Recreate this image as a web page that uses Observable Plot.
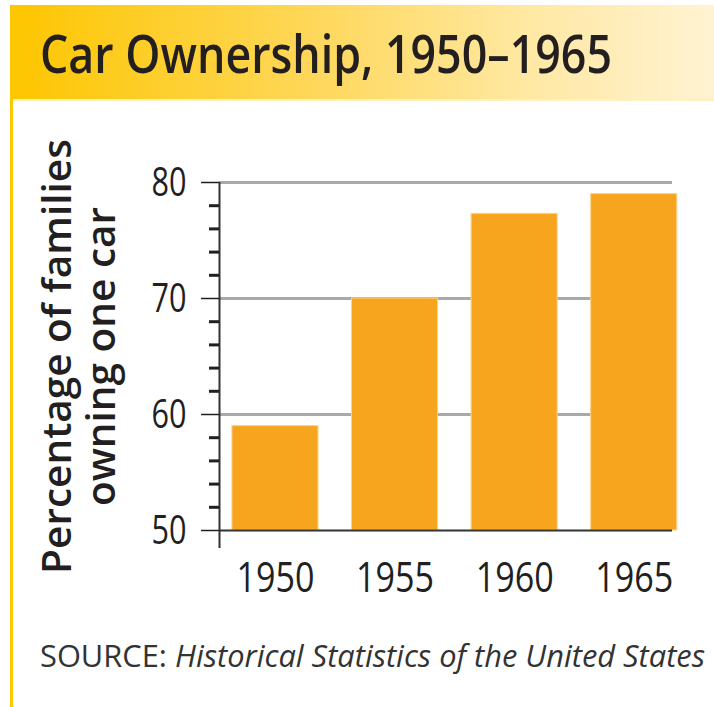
<!DOCTYPE html>
<html>
<head>
<meta charset="utf-8">
<script src="https://cdn.jsdelivr.net/npm/d3@7"></script>
<script src="https://cdn.jsdelivr.net/npm/@observablehq/plot@0.6"></script>
<style>
  body { margin: 0; background: #fff; }
  #wrap { position: relative; width: 714px; height: 707px; overflow: hidden;
    font-family: "Open Sans", "DejaVu Sans Condensed", sans-serif; color: #231f20; }
  #border { position: absolute; left: 10px; top: 5px; width: 3px; bottom: 0; background: #fcc800; }
  #bar { position: absolute; left: 10px; top: 5px; right: 0; height: 94px;
    background: linear-gradient(to right, #fdc600 0%, #fed653 40%, #ffe9a6 75%, #fff3d2 100%);
    border-bottom: 2px solid #fff0c0; }
  #title { position: absolute; left: 40px; top: 27px; font-size: 52px; line-height: 1; font-weight: 600;
    white-space: nowrap; transform-origin: 0 50%; }
  #caption { position: absolute; left: 40px; top: 640px; font-size: 31px; line-height: 1; color: #333;
    white-space: nowrap; transform-origin: 0 50%; }
  #chart { position: absolute; left: 0; top: 100px; }
</style>
</head>
<body>
<div id="wrap">
  <div id="bar"></div>
  <div id="border"></div>
  <div id="title">Car Ownership, 1950–1965</div>
  <div id="chart"></div>
  <div id="caption">SOURCE: <i>Historical Statistics of the United States</i></div>
</div>
<script>
// ---- data ----
const years = [1950, 1955, 1960, 1965];
const shares = [59, 70, 77.3, 79];
const yTicks = [50, 60, 70, 80];
const gridTicks = [60, 70, 80];
const minorTicks = [52, 54, 56, 58, 62, 64, 66, 68, 72, 74, 76, 78];
const yLabel = "Percentage of families\nowning one car";

const data = years.map((year, i) => ({year, share: shares[i]}));
const halfBar = 1.8;
const xDomain = [1947.66, 1966.6];
const yDomain = [50, 80];
const font = "'Open Sans', 'DejaVu Sans Condensed', sans-serif";

const plot = Plot.plot({
  width: 714,
  height: 520,
  marginLeft: 219,
  marginRight: 42,
  marginTop: 82,
  marginBottom: 90,
  style: {color: "#231f20", fontFamily: font, background: "transparent", overflow: "visible"},
  x: {type: "linear", domain: xDomain},
  y: {type: "linear", domain: yDomain},
  marks: [
    Plot.ruleY(gridTicks, {stroke: "#a9a9a9", strokeWidth: 3}),
    Plot.rectY(data, {x1: d => d.year - halfBar, x2: d => d.year + halfBar, y1: yDomain[0], y2: "share",
      fill: "#f7a51e", stroke: "#fcd38f", strokeWidth: 1}),
    Plot.ruleY([yDomain[0]], {stroke: "#333", strokeWidth: 2}),
    Plot.ruleX([xDomain[0]], {y1: yDomain[0] - 1.55, y2: yDomain[1], stroke: "#333", strokeWidth: 2}),
    Plot.axisY({ticks: minorTicks, tickSize: 10, strokeWidth: 3, stroke: "#231f20", tickFormat: () => "", label: null}),
    Plot.axisY({ticks: yTicks, tickSize: 18, strokeWidth: 1.5, stroke: "#231f20", tickPadding: 15,
      fontSize: 41, tickFormat: d => String(d),
      label: yLabel, labelAnchor: "center", labelOffset: 177, labelArrow: "none"}),
    Plot.axisX({ticks: years, tickSize: 0, tickPadding: 32, fontSize: 42, tickFormat: d => String(d), label: null})
  ]
});
document.getElementById("chart").appendChild(plot);

// horizontally condense an svg text around its anchor point
function condense(t, s) {
  const tr = t.getAttribute("transform");
  if (tr && /translate/.test(tr)) {
    t.setAttribute("transform", tr + ` scale(${s},1)`);
  } else {
    const x = +(t.getAttribute("x") || 0), y = +(t.getAttribute("y") || 0);
    t.setAttribute("transform", `translate(${x},${y}) scale(${s},1) translate(${-x},${-y})`);
  }
}

const texts = Array.from(plot.querySelectorAll("text"));
texts.forEach(t => {
  const s = t.textContent;
  if (s.startsWith("Percentage")) {
    t.setAttribute("font-size", 40);
    t.setAttribute("font-weight", 600);
    t.querySelectorAll("tspan").forEach((ts, i) => { if (i > 0) ts.setAttribute("dy", "1.1em"); });
    const first = t.querySelector("tspan") || t;
    const w = first.getComputedTextLength();
    if (w > 0) condense(t, 435 / w);
  }
});
texts.forEach(t => {
  const s = t.textContent.trim();
  if (/^\d{4}$/.test(s)) {
    const w = t.getComputedTextLength();
    if (w > 0) condense(t, 78 / w);
  } else if (/^\d{2}$/.test(s)) {
    const w = t.getComputedTextLength();
    if (w > 0) condense(t, 35 / w);
  }
});

function fit(id, target) {
  const el = document.getElementById(id);
  const w = el.getBoundingClientRect().width;
  if (w > 0) el.style.transform = `scaleX(${target / w})`;
}
fit("title", 572);
fit("caption", 665);
</script>
</body>
</html>
